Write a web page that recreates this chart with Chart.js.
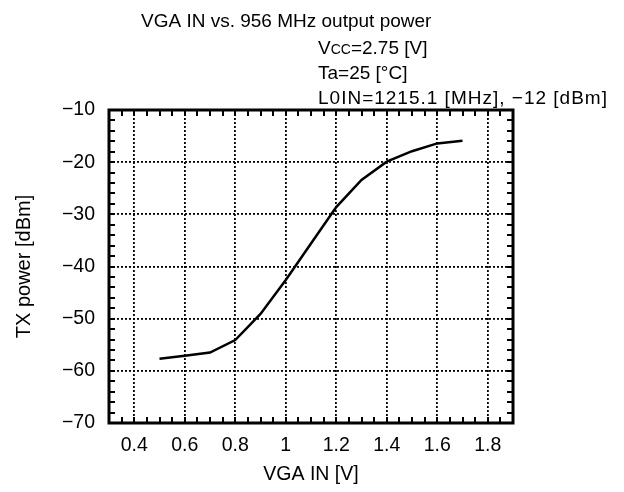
<!DOCTYPE html>
<html>
<head>
<meta charset="utf-8">
<script src="https://cdn.jsdelivr.net/npm/chart.js@4.4.0/dist/chart.umd.min.js"></script>
<style>
  html, body { margin: 0; padding: 0; background: #fff; }
  #wrap { width: 624px; height: 492px; }
</style>
</head>
<body>
<div id="wrap"><canvas id="vga_chart" width="624" height="492"></canvas></div>
<script>
// VGA IN [V] vs TX power [dBm]
const vgaIn = [0.5, 0.6, 0.7, 0.8, 0.9, 1.0, 1.1, 1.2, 1.3, 1.4, 1.5, 1.6, 1.7];
const txPower = [-57.7, -57.1, -56.5, -54.1, -49.1, -42.6, -35.6, -28.6, -23.4, -19.9, -17.9, -16.4, -15.9];

const xTicks = [0.4, 0.6, 0.8, 1.0, 1.2, 1.4, 1.6, 1.8];
const yTicks = [-70, -60, -50, -40, -30, -20, -10];

const FONT = 'Arial, "Liberation Sans", sans-serif';

// title lines, minor ticks and the box round the plot
const frame = {
  id: 'frame',
  afterDraw(chart) {
    const ctx = chart.ctx;
    const a = chart.chartArea;
    const sx = chart.scales.x, sy = chart.scales.y;

    ctx.save();
    ctx.strokeStyle = '#000';
    ctx.lineWidth = 2;
    ctx.beginPath();
    for (let v = 0.3; v <= 1.9001; v += 0.05) {
      const px = Math.round(sx.getPixelForValue(v));
      ctx.moveTo(px, a.bottom); ctx.lineTo(px, a.bottom - 6);
      ctx.moveTo(px, a.top); ctx.lineTo(px, a.top + 6);
    }
    for (let v = -70; v <= -10; v += 2) {
      const py = Math.round(sy.getPixelForValue(v));
      ctx.moveTo(a.left, py); ctx.lineTo(a.left + 6, py);
      ctx.moveTo(a.right, py); ctx.lineTo(a.right - 6, py);
    }
    ctx.stroke();

    ctx.lineWidth = 3;
    ctx.strokeRect(a.left, a.top, a.right - a.left, a.bottom - a.top);

    ctx.fillStyle = '#000';
    ctx.textBaseline = 'alphabetic';
    ctx.textAlign = 'left';
    ctx.font = '19px ' + FONT;
    ctx.fillText('VGA IN vs. 956 MHz output power', 141, 27);

    let x = 318;
    ctx.fillText('V', x, 54);
    x += ctx.measureText('V').width;
    ctx.font = '14px ' + FONT;
    ctx.fillText('CC', x, 54);
    x += ctx.measureText('CC').width;
    ctx.font = '19px ' + FONT;
    ctx.fillText('=2.75 [V]', x, 54);

    ctx.fillText('Ta=25 [°C]', 318, 79);
    ctx.letterSpacing = '1px';
    ctx.fillText('L0IN=1215.1 [MHz], \u221212 [dBm]', 318, 104);
    ctx.restore();
  }
};

new Chart(document.getElementById('vga_chart').getContext('2d'), {
  type: 'line',
  data: {
    datasets: [{
      data: vgaIn.map((v, i) => ({ x: v, y: txPower[i] })),
      borderColor: '#000',
      borderWidth: 2.5,
      pointRadius: 0,
      tension: 0,
      fill: false
    }]
  },
  options: {
    responsive: false,
    animation: false,
    layout: { padding: { top: 110, right: 111, left: 0, bottom: 0 } },
    plugins: {
      legend: { display: false },
      tooltip: { enabled: false }
    },
    scales: {
      x: {
        type: 'linear',
        min: 0.3,
        max: 1.9,
        afterBuildTicks: s => { s.ticks = xTicks.map(v => ({ value: v })); },
        afterFit: s => { s.height = 69; },
        grid: { color: '#000', lineWidth: 1.8, drawTicks: false },
        border: { display: false, dash: [2, 2] },
        ticks: {
          color: '#000',
          font: { family: FONT, size: 19.5 },
          padding: 11,
          maxRotation: 0,
          callback: v => String(v)
        },
        title: {
          display: true,
          text: 'VGA IN [V]',
          color: '#000',
          font: { family: FONT, size: 19.5 },
          padding: { top: 0, bottom: 6 }
        }
      },
      y: {
        min: -70,
        max: -10,
        afterBuildTicks: s => { s.ticks = yTicks.map(v => ({ value: v })); },
        afterFit: s => { s.width = 109; },
        grid: { color: '#000', lineWidth: 1.8, drawTicks: false },
        border: { display: false, dash: [2, 2] },
        ticks: {
          color: '#000',
          font: { family: FONT, size: 19.5 },
          padding: 14,
          callback: v => String(v).replace('-', '\u2212')
        },
        title: {
          display: true,
          text: 'TX power [dBm]',
          color: '#000',
          font: { family: FONT, size: 20 },
          padding: { top: 12, bottom: 0 }
        }
      }
    }
  },
  plugins: [frame]
});
</script>
</body>
</html>
